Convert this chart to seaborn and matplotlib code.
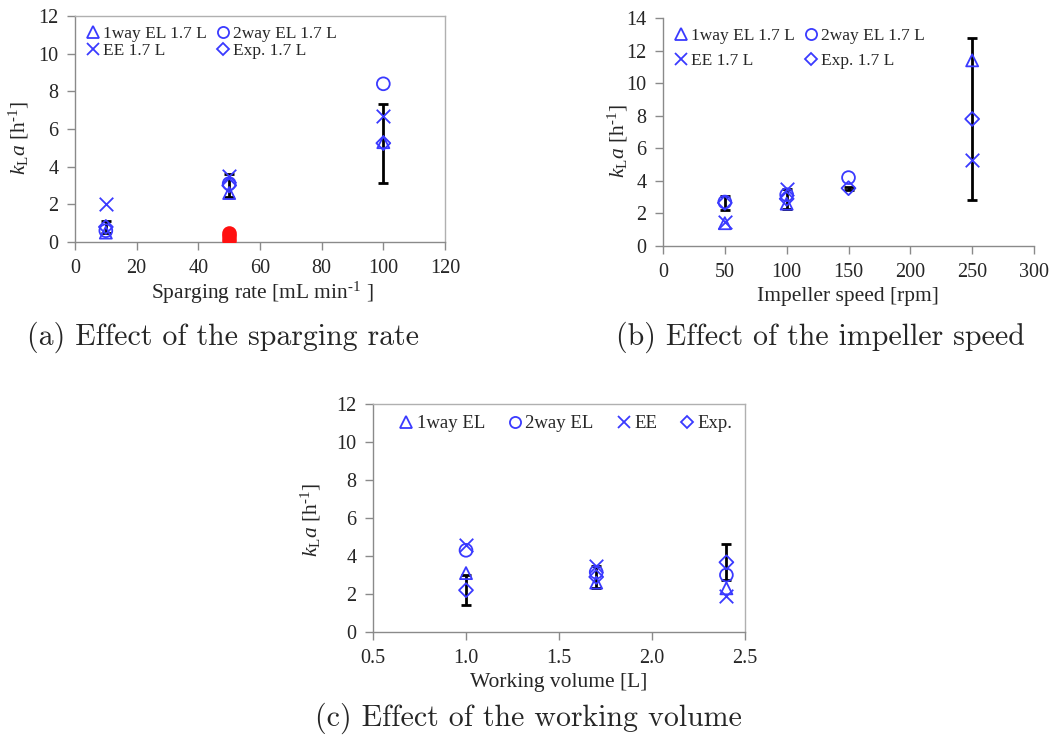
import numpy as np
import pandas as pd
import matplotlib
matplotlib.use("Agg")
import matplotlib.pyplot as plt
from matplotlib.lines import Line2D
import seaborn as sns

sns.set_theme(style="white")
plt.rcParams["font.family"] = ["Liberation Serif", "DejaVu Serif"]
plt.rcParams["mathtext.fontset"] = "custom"
plt.rcParams["mathtext.rm"] = "Liberation Serif"
plt.rcParams["mathtext.it"] = "Liberation Serif:italic"

# ---- data -------------------------------------------------------------
series_names = ["1way EL", "2way EL", "EE", "Exp."]

# (a) sparging rate
spar_x = [10, 50, 100]
spar_1way = [0.5, 2.6, 5.3]
spar_2way = [0.6, 3.1, 8.4]
spar_ee = [2.0, 3.5, 6.7]
spar_exp = [0.8, 3.0, 5.25]
spar_err = [0.3, 0.6, 2.1]
spar_red_x = [50, 50, 50]
spar_red_y = [0.5, 0.3, 0.1]

# (b) impeller speed
imp_x = [50, 100, 150, 250]
imp_1way = [1.4, 2.6, np.nan, 11.4]
imp_2way = [2.7, 3.15, 4.2, np.nan]
imp_ee = [1.5, 3.5, np.nan, 5.3]
imp_exp = [2.65, 2.9, 3.55, 7.8]
imp_err = [0.43, 0.6, 0.1, 5.0]

# (c) working volume
vol_x = [1.0, 1.7, 2.4]
vol_1way = [3.1, 2.6, 2.3]
vol_2way = [4.3, 3.15, 3.0]
vol_ee = [4.6, 3.45, 1.9]
vol_exp = [2.2, 2.9, 3.67]
vol_err = [0.8, 0.6, 0.95]

BLUE = "#3a3aff"
RED = "#ff1010"
SPINE = "#8a8a8a"
HYPH = "\u2010"
markers = {"1way EL": "^", "2way EL": "o", "EE": "x", "Exp.": "D"}
sizes = {"1way EL": 75, "2way EL": 85, "EE": 95, "Exp.": 50}

fig = plt.figure(figsize=(10.51, 7.40), dpi=100)
W, H = 1051, 740


def px_axes(left, top, right, bottom):
    return fig.add_axes([left / W, 1 - bottom / H, (right - left) / W, (bottom - top) / H])


def draw_series(ax, x, ys, err):
    for name, y in zip(series_names, ys):
        df = pd.DataFrame({"x": x, "y": y}).dropna()
        m = markers[name]
        if m == "x":
            sns.scatterplot(data=df, x="x", y="y", marker="x", s=sizes[name],
                            color=BLUE, linewidth=1.3, ax=ax, zorder=3)
        else:
            sns.scatterplot(data=df, x="x", y="y", marker=m, s=sizes[name],
                            facecolor="none", edgecolor=BLUE, linewidth=1.3,
                            ax=ax, zorder=3)
    ax.errorbar(x, ys[3], yerr=err, fmt="none", ecolor="black",
                elinewidth=2.0, capsize=3.5, capthick=2.0, zorder=2)


def style_axes(ax, xlim, xticks, ylim, yticks, label_xy, box=True, xfmt=None):
    ax.set_xlim(*xlim)
    ax.set_ylim(*ylim)
    ax.set_xticks(xticks)
    ax.set_yticks(yticks)
    if xfmt:
        ax.set_xticklabels([xfmt.format(t) for t in xticks])
    ax.tick_params(axis="both", which="major", direction="out", length=6,
                   width=1, color=SPINE, labelsize=14.5,
                   bottom=True, left=True)
    ax.tick_params(axis="x", pad=6)
    ax.tick_params(axis="y", pad=6)
    for s in ["left", "bottom"]:
        ax.spines[s].set_color(SPINE)
        ax.spines[s].set_linewidth(1.0)
    for s in ["top", "right"]:
        ax.spines[s].set_visible(box)
        ax.spines[s].set_color("#b0b0b0")
        ax.spines[s].set_linewidth(1.0)
    ax.set_xlabel("")
    ax.set_ylabel(r"$k_{\mathrm{L}}a$ [h$^{\mathrm{" + HYPH + "1}}$]", fontsize=15.5)
    ax.yaxis.set_label_coords(*label_xy)


def legend(ax, suffix, ncol, fontsize, **kw):
    handles = []
    for name in series_names:
        m = markers[name]
        if m == "x":
            h = Line2D([], [], marker="x", color=BLUE, linestyle="none",
                       markersize=9, markeredgewidth=1.3)
        else:
            h = Line2D([], [], marker=m, markerfacecolor="none",
                       markeredgecolor=BLUE, linestyle="none",
                       markersize=8 if m != "D" else 6.5, markeredgewidth=1.3)
        handles.append(h)
    labels = [n + suffix for n in series_names]
    # two-column legends read row by row: (1way, 2way) then (EE, Exp.)
    order = [0, 2, 1, 3] if ncol == 2 else [0, 1, 2, 3]
    ax.legend([handles[i] for i in order], [labels[i] for i in order],
              ncol=ncol, frameon=False, fontsize=fontsize, handletextpad=0.05,
              handlelength=1.0, **kw)


# ---- (a) sparging rate --------------------------------------------------
ax_a = px_axes(75, 16, 445, 242)
draw_series(ax_a, spar_x, [spar_1way, spar_2way, spar_ee, spar_exp], spar_err)
sns.scatterplot(x=spar_red_x, y=spar_red_y, marker="o", s=85, color=RED,
                edgecolor=RED, linewidth=1.3, ax=ax_a, zorder=4)
style_axes(ax_a, (0, 120), range(0, 121, 20), (0, 12), range(0, 13, 2),
           (-0.118, 0.46))
legend(ax_a, " 1.7 L", 2, 12.5, loc="upper left", bbox_to_anchor=(0.0, 1.0),
       columnspacing=0.45, labelspacing=0.05, borderaxespad=0.15)
fig.text(262 / W, 1 - 293 / H, r"Sparging rate [mL min$^{\mathrm{" + HYPH + "1}}$ ]",
         ha="center", va="center", fontsize=15.5)
fig.text(223 / W, 1 - 337 / H, "(a) Effect of the sparging rate",
         family="cmr10", ha="center", va="center", fontsize=21.5)

# ---- (b) impeller speed -------------------------------------------------
ax_b = px_axes(663, 18, 1034, 246)
draw_series(ax_b, imp_x, [imp_1way, imp_2way, imp_ee, imp_exp], imp_err)
style_axes(ax_b, (0, 300), range(0, 301, 50), (0, 14), range(0, 15, 2),
           (-0.09, 0.46), box=False)
legend(ax_b, " 1.7 L", 2, 12.5, loc="upper left", bbox_to_anchor=(0.0, 1.0),
       columnspacing=0.45, labelspacing=0.55, borderaxespad=0.15)
fig.text(848 / W, 1 - 296 / H, "Impeller speed [rpm]",
         ha="center", va="center", fontsize=15.5)
fig.text(820 / W, 1 - 337 / H, "(b) Effect of the impeller speed",
         family="cmr10", ha="center", va="center", fontsize=21.5)

# ---- (c) working volume -------------------------------------------------
ax_c = px_axes(373, 404, 745, 632)
draw_series(ax_c, vol_x, [vol_1way, vol_2way, vol_ee, vol_exp], vol_err)
style_axes(ax_c, (0.5, 2.5), [0.5, 1.0, 1.5, 2.0, 2.5], (0, 12), range(0, 13, 2),
           (-0.135, 0.49), xfmt="{:.1f}")
legend(ax_c, "", 4, 13.5, loc="upper center", bbox_to_anchor=(0.515, 1.0),
       columnspacing=1.1, borderaxespad=0.2)
fig.text(559 / W, 1 - 683 / H, "Working volume [L]",
         ha="center", va="center", fontsize=15.5)
fig.text(528 / W, 1 - 718 / H, "(c) Effect of the working volume",
         family="cmr10", ha="center", va="center", fontsize=21.5)

fig.savefig("out.png", dpi=100, facecolor="white")
